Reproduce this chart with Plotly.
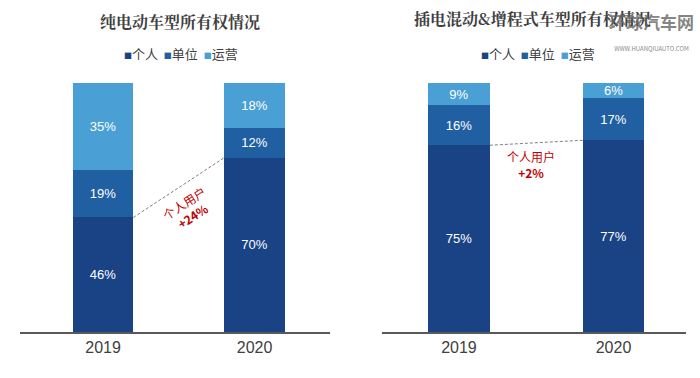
import plotly.graph_objects as go

years = ["2019", "2020"]
series = ["个人", "单位", "运营"]
colors = ["#1A4386", "#1F5FA2", "#4A9FD5"]

bev_titles = "纯电动车型所有权情况"
phev_titles = "插电混动&增程式车型所有权情况"

bev_personal = [46, 70]
bev_unit = [19, 12]
bev_operate = [35, 18]

phev_personal = [75, 77]
phev_unit = [16, 17]
phev_operate = [9, 6]

bev_change = "+24%"
phev_change = "+2%"

xpos = [0, 1]
bw = 0.40

fig = go.Figure()

def add_stack(vals_list, xa, ya):
    for name, vals, col in zip(series, vals_list, colors):
        fig.add_trace(go.Bar(
            x=xpos, y=vals, width=bw, name=name, marker_color=col,
            marker_line_width=0,
            text=[f"{v}%" for v in vals], textposition="inside",
            insidetextanchor="middle", textangle=0,
            textfont=dict(color="white", size=13, family="Liberation Sans, Arial"),
            xaxis=xa, yaxis=ya, showlegend=False, cliponaxis=False,
        ))

add_stack([bev_personal, bev_unit, bev_operate], "x", "y")
add_stack([phev_personal, phev_unit, phev_operate], "x2", "y2")

# dashed connectors between personal-segment tops
for vals, xa, ya in [(bev_personal, "x", "y"), (phev_personal, "x2", "y2")]:
    fig.add_trace(go.Scatter(x=[xpos[0] + bw / 2, xpos[1] - bw / 2], y=vals,
                             mode="lines", line=dict(color="#808080", width=1, dash="3px,2px"),
                             xaxis=xa, yaxis=ya, showlegend=False, hoverinfo="skip"))

axis_common = dict(showgrid=False, zeroline=False, showline=True, linecolor="#595959",
                   linewidth=1.5, ticks="", tickvals=xpos, ticktext=years,
                   tickfont=dict(size=16, color="#404040", family="Liberation Sans, Arial"),
                   fixedrange=True)
yaxis_common = dict(range=[0, 100], visible=False, fixedrange=True)

fig.update_layout(
    width=700, height=378,
    margin=dict(l=0, r=0, t=83, b=46),
    plot_bgcolor="white", paper_bgcolor="white",
    barmode="stack",
    uniformtext=dict(minsize=13, mode="show"),
    xaxis=dict(domain=[20 / 700, 330 / 700], range=[-0.548, 1.498], **axis_common),
    xaxis2=dict(domain=[382 / 700, 686 / 700], range=[-0.498, 1.469], anchor="y2", **axis_common),
    yaxis=dict(domain=[0, 1], **yaxis_common),
    yaxis2=dict(domain=[0, 1], anchor="x2", **yaxis_common),
)

PH = 249.0  # plot-area height in px (top 83, bottom 332)

def py(ypx):
    return (332 - ypx) / PH

ann = []
title_font = dict(size=16, color="#404040", family="Noto Serif CJK SC, Noto Sans CJK SC")
ann.append(dict(text=f"<b>{bev_titles}</b>", x=180 / 700, y=py(21), xref="paper", yref="paper",
                showarrow=False, font=title_font, xanchor="center", yanchor="middle"))
ann.append(dict(text=f"<b>{phev_titles}</b>", x=532 / 700, y=py(18), xref="paper", yref="paper",
                showarrow=False, font=title_font, xanchor="center", yanchor="middle"))

def legend_text():
    parts = []
    for name, col in zip(series, colors):
        parts.append(f"<span style='color:{col};font-size:8px'>■</span>{name}")
    return "  ".join(parts)

leg_font = dict(size=13, color="#404040", family="Noto Sans CJK SC")
ann.append(dict(text=legend_text(), x=181 / 700, y=py(53), xref="paper", yref="paper",
                showarrow=False, font=leg_font, xanchor="center", yanchor="middle"))
ann.append(dict(text=legend_text(), x=538 / 700, y=py(53), xref="paper", yref="paper",
                showarrow=False, font=leg_font, xanchor="center", yanchor="middle"))

red = "#C00000"
ann.append(dict(text=f"个人用户<br><b>{bev_change}</b>", x=188 / 700, y=py(209),
                xref="paper", yref="paper", showarrow=False, textangle=-33,
                font=dict(size=12, color=red, family="Noto Sans CJK SC"),
                xanchor="center", yanchor="middle"))
ann.append(dict(text=f"个人用户<br><b>{phev_change}</b>", x=531 / 700, y=py(164),
                xref="paper", yref="paper", showarrow=False,
                font=dict(size=12, color=red, family="Noto Sans CJK SC"),
                xanchor="center", yanchor="middle"))

# watermark (single two-line text)
ann.append(dict(text="<b>环球汽车网</b><br><span style='font-size:6px'>WWW.HUANQIUAUTO.COM</span>",
                x=651 / 700, y=py(31), xref="paper", yref="paper",
                showarrow=False, font=dict(size=17, color="rgba(100,100,100,0.8)", family="Noto Sans CJK SC"),
                xanchor="center", yanchor="middle"))

fig.update_layout(annotations=ann)

fig.write_html("out.html", config={"displayModeBar": False},
               post_script="document.body.style.margin='0';document.body.style.overflow='hidden';")
